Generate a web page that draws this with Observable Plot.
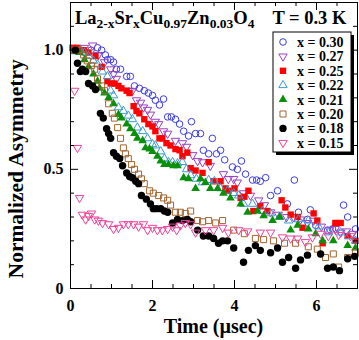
<!DOCTYPE html>
<html>
<head>
<meta charset="utf-8">
<script src="https://cdn.jsdelivr.net/npm/d3@7"></script>
<script src="https://cdn.jsdelivr.net/npm/@observablehq/plot@0.6"></script>
<style>
  html, body { margin: 0; padding: 0; background: #fff; }
  #chart svg { display: block; }
</style>
</head>
<body>
<div id="chart"></div>
<script>
// Muon spin relaxation: normalized asymmetry vs time for La2-xSrxCu0.97Zn0.03O4 at 0.3 K

const seriesLabels = ["x = 0.30", "x = 0.27", "x = 0.25", "x = 0.22", "x = 0.21", "x = 0.20", "x = 0.18", "x = 0.15"];

const t30 = [0.07,0.2,0.35,0.5,0.66,0.76,0.85,0.90,0.98,1.05,1.12,1.22,1.37,1.46,1.56,1.68,1.80,1.90,2.0,2.07,2.17,2.27,2.37,2.46,2.56,2.66,2.76,2.88,2.95,3.05,3.17,3.24,3.37,3.46,3.56,3.66,3.76,3.95,4.07,4.17,4.27,4.44,4.54,4.63,4.76,4.88,5.05,5.29,5.46,5.56,5.78,5.85,5.98,6.27,6.39,6.66,6.76,6.95];
const a30 = [1.00,1.00,0.99,1.00,1.01,1.00,0.98,0.96,0.96,0.95,0.92,0.92,0.89,0.89,0.85,0.84,0.83,0.82,0.81,0.79,0.77,0.795,0.72,0.72,0.71,0.69,0.66,0.64,0.70,0.65,0.65,0.58,0.565,0.63,0.565,0.58,0.54,0.51,0.50,0.535,0.48,0.455,0.455,0.45,0.465,0.39,0.41,0.355,0.455,0.32,0.29,0.33,0.265,0.245,0.25,0.35,0.30,0.25];

const t27 = [0.15,0.34,0.54,0.68,0.83,0.98,1.05,1.12,1.41,1.51,1.61,1.71,1.78,1.88,1.95,2.07,2.15,2.27,2.37,2.56,2.73,2.83,2.98,3.10,3.22,3.41,3.73,3.85,3.98,4.07,4.22,4.39,4.59,4.73,4.88,5.07,5.27,5.44,5.61,5.78,5.93,6.12,6.32,6.46,6.59,6.73,6.88];
const a27 = [1.00,1.01,1.02,0.98,0.95,0.92,0.90,0.88,0.83,0.83,0.79,0.78,0.76,0.75,0.73,0.70,0.69,0.66,0.65,0.62,0.61,0.595,0.56,0.535,0.53,0.515,0.48,0.46,0.46,0.445,0.40,0.39,0.37,0.35,0.32,0.31,0.30,0.30,0.29,0.275,0.285,0.26,0.245,0.25,0.235,0.24,0.23];

const t25 = [0.05,0.17,0.32,0.44,0.61,0.76,0.90,0.98,1.07,1.17,1.24,1.37,1.44,1.54,1.61,1.68,1.80,1.90,2.0,2.07,2.17,2.24,2.34,2.44,2.56,2.66,2.73,2.85,2.93,3.05,3.22,3.37,3.49,3.66,3.78,3.85,4.00,4.15,4.24,4.34,4.46,4.63,4.80,5.15,5.24,5.37,5.54,5.66,5.93,6.02,6.15,6.46,6.59,6.76,6.95];
const a25 = [1.01,1.01,1.00,0.99,0.975,0.93,0.87,0.86,0.86,0.85,0.84,0.83,0.82,0.765,0.745,0.735,0.71,0.69,0.68,0.66,0.63,0.63,0.61,0.60,0.585,0.58,0.555,0.57,0.505,0.495,0.485,0.53,0.45,0.45,0.42,0.41,0.42,0.38,0.385,0.41,0.325,0.345,0.325,0.37,0.34,0.31,0.30,0.255,0.315,0.285,0.19,0.275,0.275,0.22,0.20];

const t22 = [0.1,0.24,0.34,0.44,0.56,0.66,0.78,0.90,0.98,1.05,1.17,1.29,1.41,1.51,1.63,1.76,1.88,2.0,2.07,2.20,2.29,2.39,2.49,2.61,2.73,2.83,2.93,3.07,3.22,3.37,3.51,3.66,3.83,3.98,4.10,4.22,4.44,4.68,4.88,5.10,5.32,5.56,5.80,6.05,6.29,6.59,6.78,6.95];
const a22 = [0.995,1.00,0.99,0.975,0.955,0.94,0.91,0.89,0.83,0.81,0.76,0.745,0.725,0.71,0.675,0.66,0.63,0.605,0.60,0.575,0.545,0.53,0.53,0.525,0.53,0.50,0.475,0.46,0.445,0.455,0.45,0.42,0.41,0.40,0.39,0.355,0.355,0.325,0.315,0.30,0.285,0.29,0.285,0.26,0.235,0.235,0.22,0.20];

const t21 = [0.1,0.22,0.34,0.44,0.56,0.66,0.71,0.83,0.93,1.05,1.17,1.24,1.37,1.46,1.56,1.63,1.76,1.83,1.93,2.0,2.12,2.20,2.29,2.39,2.51,2.61,2.76,2.88,3.05,3.17,3.29,3.41,3.59,3.73,3.90,4.15,4.32,4.56,4.71,4.93,5.10,5.37,5.54,5.80,5.98,6.15,6.41,6.76,6.95];
const a21 = [0.995,0.99,0.96,0.93,0.90,0.87,0.84,0.82,0.80,0.775,0.73,0.715,0.69,0.67,0.65,0.63,0.62,0.59,0.585,0.575,0.555,0.535,0.52,0.52,0.515,0.515,0.465,0.46,0.42,0.46,0.445,0.42,0.42,0.40,0.38,0.355,0.32,0.325,0.305,0.285,0.30,0.245,0.265,0.25,0.23,0.20,0.20,0.18,0.17];

const t20 = [0.07,0.20,0.32,0.41,0.51,0.59,0.66,0.76,0.83,0.93,1.02,1.07,1.15,1.22,1.29,1.34,1.41,1.49,1.56,1.66,1.73,1.80,1.93,2.02,2.15,2.27,2.37,2.44,2.56,2.68,2.80,2.93,3.10,3.22,3.37,3.54,3.71,3.98,4.24,4.51,4.71,4.95,5.22,5.49,5.80,6.02,6.22,6.41,6.54,6.76,6.95];
const a20 = [1.00,1.00,0.98,0.955,0.935,0.92,0.88,0.85,0.83,0.775,0.735,0.715,0.675,0.63,0.59,0.565,0.545,0.52,0.50,0.48,0.46,0.44,0.41,0.40,0.39,0.38,0.37,0.35,0.32,0.32,0.315,0.325,0.285,0.28,0.285,0.275,0.285,0.245,0.23,0.21,0.205,0.20,0.19,0.19,0.175,0.165,0.13,0.145,0.09,0.13,0.15];

const t18 = [0.12,0.17,0.24,0.29,0.37,0.44,0.54,0.61,0.73,0.80,0.88,0.93,0.98,1.05,1.12,1.20,1.27,1.37,1.44,1.51,1.59,1.66,1.73,1.85,1.95,2.02,2.10,2.20,2.29,2.37,2.49,2.61,2.73,2.85,2.93,3.10,3.24,3.37,3.49,3.61,3.71,3.83,3.98,4.22,4.34,4.51,4.63,4.88,5.05,5.17,5.32,5.49,5.61,5.78,6.10,6.27,6.41,6.56,6.76,6.93];
const a18 = [1.00,0.945,0.91,0.92,0.91,0.86,0.85,0.835,0.735,0.715,0.67,0.65,0.63,0.57,0.555,0.545,0.515,0.485,0.47,0.465,0.45,0.44,0.39,0.375,0.355,0.335,0.335,0.335,0.325,0.32,0.275,0.29,0.285,0.29,0.28,0.245,0.22,0.22,0.21,0.19,0.20,0.20,0.17,0.11,0.16,0.18,0.16,0.15,0.17,0.11,0.13,0.085,0.12,0.14,0.145,0.085,0.09,0.075,0.125,0.135];

const t15 = [0.10,0.17,0.22,0.29,0.37,0.44,0.51,0.59,0.68,0.78,0.93,1.05,1.17,1.29,1.41,1.54,1.66,1.78,1.88,2.0,2.12,2.24,2.37,2.49,2.59,2.68,2.80,2.93,3.05,3.29,3.49,3.71,3.85,4.10,4.32,4.63,4.88,5.17,5.37,5.54,5.73,5.90,6.10,6.29,6.54,6.83];
const a15 = [0.83,0.59,0.38,0.31,0.29,0.305,0.315,0.29,0.285,0.275,0.27,0.25,0.255,0.27,0.27,0.27,0.26,0.27,0.245,0.255,0.245,0.245,0.25,0.26,0.245,0.265,0.275,0.27,0.235,0.245,0.245,0.255,0.235,0.245,0.24,0.235,0.235,0.215,0.21,0.21,0.195,0.215,0.23,0.22,0.225,0.22];

// axis ticks
const xMajor = [0, 2, 4, 6];
const xMinor = [0.5, 1, 1.5, 2.5, 3, 3.5, 4.5, 5, 5.5, 6.5];
const yMajor = [0, 0.5, 1.0];
const yMinor = [0.1, 0.2, 0.3, 0.4, 0.6, 0.7, 0.8, 0.9, 1.1];
const yTickLabels = ["0", "0.5", "1.0"];

// downward-pointing triangle, same area convention as d3.symbolTriangle
const triangleDown = {
  draw(context, size) {
    const y = Math.sqrt(size / (Math.sqrt(3) * 3));
    context.moveTo(0, 2 * y);
    context.lineTo(-Math.sqrt(3) * y, -y);
    context.lineTo(Math.sqrt(3) * y, -y);
    context.closePath();
  }
};

const styles = [
  {symbol: d3.symbolCircle,   r: 3.3, fill: "none",    stroke: "#3a3ae6"},
  {symbol: triangleDown,      r: 3.1, fill: "none",    stroke: "#9b3fc2"},
  {symbol: d3.symbolSquare,   r: 3.6, fill: "#ff0000", stroke: "none"},
  {symbol: d3.symbolTriangle, r: 3.1, fill: "none",    stroke: "#3a9ad6"},
  {symbol: d3.symbolTriangle, r: 3.2, fill: "#0a8f0a", stroke: "none"},
  {symbol: d3.symbolSquare,   r: 3.4, fill: "none",    stroke: "#a2652f"},
  {symbol: d3.symbolCircle,   r: 3.7, fill: "#000000", stroke: "none"},
  {symbol: triangleDown,      r: 3.1, fill: "none",    stroke: "#f0409a"}
];

const times = [t30, t27, t25, t22, t21, t20, t18, t15];
const values = [a30, a27, a25, a22, a21, a20, a18, a15];
const series = seriesLabels.map((label, i) => times[i].map((t, j) => ({label, t, a: values[i][j]})));

const W = 359, H = 340;
const ML = 70, MR = 2, MT = 2, MB = 52;
const xDomain = [0, 7], yDomain = [0, 1.2];
const pxX = (W - ML - MR) / (xDomain[1] - xDomain[0]);
const pxY = (H - MT - MB) / (yDomain[1] - yDomain[0]);
const majorLen = 8, minorLen = 4;

// inward tick marks on all four sides of the frame
function tickMarks() {
  const xt = (vals, len) => [
    Plot.ruleX(vals, {x: d => d, y1: yDomain[0], y2: yDomain[0] + len / pxY, stroke: "black"}),
    Plot.ruleX(vals, {x: d => d, y1: yDomain[1], y2: yDomain[1] - len / pxY, stroke: "black"})
  ];
  const yt = (vals, len) => [
    Plot.ruleY(vals, {y: d => d, x1: xDomain[0], x2: xDomain[0] + len / pxX, stroke: "black"}),
    Plot.ruleY(vals, {y: d => d, x1: xDomain[1], x2: xDomain[1] - len / pxX, stroke: "black"})
  ];
  return [...xt(xMajor, majorLen), ...xt(xMinor, minorLen), ...yt(yMajor, majorLen), ...yt(yMinor, minorLen)];
}

const serif = "'Liberation Serif', 'Times New Roman', serif";

const plot = Plot.plot({
  width: W,
  height: H,
  marginLeft: ML,
  marginRight: MR,
  marginTop: MT,
  marginBottom: MB,
  style: {fontFamily: serif, fontWeight: "bold", background: "white", color: "black", overflow: "visible"},
  x: {domain: xDomain},
  y: {domain: yDomain},
  marks: [
    ...series.map((data, i) => Plot.dot(data, {
      x: "t", y: "a",
      symbol: styles[i].symbol, r: styles[i].r,
      fill: styles[i].fill, stroke: styles[i].stroke, strokeWidth: 1
    })),
    ...tickMarks(),
    Plot.frame({stroke: "black", strokeWidth: 1}),
    Plot.axisX({ticks: xMajor, tickSize: 0, tickPadding: 11, fontSize: 16, fontWeight: "bold", tickFormat: d => String(d), label: null}),
    Plot.axisY({ticks: yMajor, tickSize: 0, tickPadding: 7, fontSize: 16, fontWeight: "bold",
      tickFormat: d => yTickLabels[yMajor.indexOf(d)], label: null})
  ]
});

document.getElementById("chart").appendChild(plot);

const svg = d3.select(plot);
const sx = plot.scale("x"), sy = plot.scale("y");
const textAttrs = (sel, size) => sel
  .attr("font-family", serif).attr("font-weight", "bold").attr("font-size", size).attr("fill", "black");

// axis titles
textAttrs(svg.append("text"), 20)
  .attr("x", (sx.apply(xDomain[0]) + sx.apply(xDomain[1])) / 2).attr("y", H - 7)
  .attr("text-anchor", "middle")
  .text("Time (µsec)");
textAttrs(svg.append("text"), 21.5)
  .attr("text-anchor", "middle")
  .attr("transform", `translate(23,${(sy.apply(0) + sy.apply(1.0)) / 2}) rotate(-90)`)
  .text("Normalized Asymmetry");

// chemical formula and temperature along the top of the frame
const title = textAttrs(svg.append("text"), 18.5)
  .attr("text-anchor", "start")
  .attr("x", sx.apply(0.12)).attr("y", sy.apply(1.2) + 22);
const parts = [["La", false], ["2-x", true], ["Sr", false], ["x", true], ["Cu", false], ["0.97", true],
  ["Zn", false], ["0.03", true], ["O", false], ["4", true]];
let shifted = false;
for (const [txt, sub] of parts) {
  const ts = title.append("tspan").text(txt);
  if (sub) {
    ts.attr("font-size", 13.5);
    if (!shifted) { ts.attr("dy", 4); shifted = true; }
  } else if (shifted) {
    ts.attr("dy", -4); shifted = false;
  }
}
textAttrs(svg.append("text"), 18.5)
  .attr("x", sx.apply(6.74)).attr("y", sy.apply(1.2) + 22)
  .attr("text-anchor", "end")
  .text("T = 0.3 K");

// legend box with drop shadow
const lx = 273, ly = 32, lw = 78, lh = 120, rowH = 14.4;
const legend = svg.append("g");
legend.append("rect").attr("x", lx + 3).attr("y", ly + 3).attr("width", lw).attr("height", lh).attr("fill", "black");
legend.append("rect").attr("x", lx).attr("y", ly).attr("width", lw).attr("height", lh)
  .attr("fill", "white").attr("stroke", "black").attr("stroke-width", 1);
seriesLabels.forEach((label, i) => {
  const cy = ly + 10 + i * rowH;
  const s = styles[i];
  legend.append("path")
    .attr("d", d3.symbol(s.symbol, Math.PI * s.r * s.r)())
    .attr("transform", `translate(${lx + 10},${cy})`)
    .attr("fill", s.fill).attr("stroke", s.stroke).attr("stroke-width", 1);
  textAttrs(legend.append("text"), 14)
    .attr("text-anchor", "start")
    .attr("x", lx + 24).attr("y", cy + 5)
    .text(label);
});
</script>
</body>
</html>
